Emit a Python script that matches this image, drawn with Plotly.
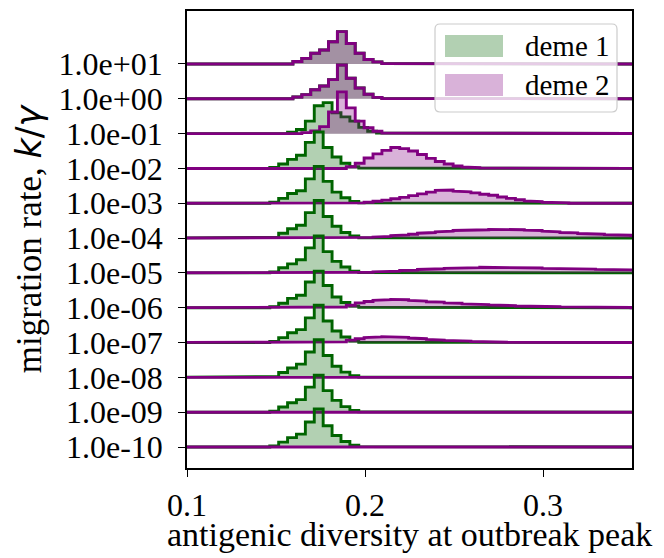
import plotly.graph_objects as go

# ---------------- data ----------------
rates = ["1.0e+01", "1.0e+00", "1.0e-01", "1.0e-02", "1.0e-03", "1.0e-04",
         "1.0e-05", "1.0e-06", "1.0e-07", "1.0e-08", "1.0e-09", "1.0e-10"]

bin_width = 0.005

# deme 1: left edge of first bin and bin heights, one row per rate (top to bottom)
deme1_start = [0.1595, 0.1595, 0.1565, 0.1465, 0.1465, 0.1465,
               0.1465, 0.1465, 0.1465, 0.1465, 0.1465, 0.1465]
deme1_heights = [
    [0.07, 0.16, 0.31, 0.40, 0.64, 0.93, 0.59, 0.31, 0.13, 0.06, 0.015],
    [0.05, 0.12, 0.26, 0.37, 0.55, 0.97, 0.59, 0.31, 0.13, 0.04, 0.01],
    [0.04, 0.12, 0.36, 0.80, 0.89, 0.60, 0.48, 0.36, 0.18, 0.07, 0.02],
    [0.03, 0.13, 0.26, 0.38, 0.75, 1.05, 0.60, 0.33, 0.15, 0.05, 0.01],
    [0.03, 0.14, 0.28, 0.36, 0.70, 1.06, 0.63, 0.32, 0.16, 0.05, 0.01],
    [0.02, 0.14, 0.27, 0.37, 0.73, 1.08, 0.62, 0.34, 0.16, 0.06, 0.01],
    [0.03, 0.15, 0.26, 0.38, 0.72, 1.06, 0.61, 0.33, 0.17, 0.05, 0.01],
    [0.03, 0.13, 0.27, 0.36, 0.74, 1.05, 0.64, 0.31, 0.15, 0.05, 0.01],
    [0.03, 0.14, 0.28, 0.37, 0.71, 1.07, 0.62, 0.33, 0.16, 0.04, 0.01],
    [0.02, 0.14, 0.27, 0.38, 0.73, 1.08, 0.63, 0.32, 0.15, 0.05, 0.01],
    [0.03, 0.15, 0.27, 0.36, 0.72, 1.06, 0.62, 0.34, 0.16, 0.05, 0.01],
    [0.03, 0.14, 0.27, 0.37, 0.72, 1.09, 0.61, 0.33, 0.16, 0.05, 0.01],
]

# deme 2
deme2_start = [0.1595, 0.1595, 0.1645, 0.1895, 0.1945, 0.1945,
               0.1945, 0.1845, 0.1845, 0.1845, 0.1845, 0.1845]
deme2_heights = [
    [0.07, 0.16, 0.31, 0.40, 0.64, 0.93, 0.59, 0.31, 0.13, 0.06, 0.015],
    [0.05, 0.12, 0.26, 0.37, 0.55, 0.97, 0.59, 0.31, 0.13, 0.04, 0.01],
    [0.03, 0.08, 0.20, 0.62, 1.20, 0.74, 0.36, 0.17, 0.07, 0.02],
    [0.05, 0.15, 0.30, 0.42, 0.52, 0.60, 0.57, 0.50, 0.40, 0.29, 0.20, 0.13,
     0.07, 0.04, 0.02, 0.01],
    [0.01, 0.03, 0.06, 0.09, 0.13, 0.17, 0.22, 0.27, 0.32, 0.37, 0.38, 0.35,
     0.33, 0.30, 0.26, 0.23, 0.18, 0.14, 0.10, 0.07, 0.05, 0.03, 0.02, 0.01],
    [0.01, 0.02, 0.03, 0.05, 0.07, 0.09, 0.11, 0.14, 0.16, 0.18, 0.20, 0.22,
     0.23, 0.23, 0.24, 0.25, 0.26, 0.25, 0.24, 0.23, 0.22, 0.20, 0.18, 0.16,
     0.15, 0.13, 0.12, 0.11, 0.10, 0.09, 0.08, 0.07, 0.06],
    [0.01, 0.02, 0.03, 0.04, 0.05, 0.07, 0.08, 0.10, 0.11, 0.12, 0.13, 0.14,
     0.15, 0.15, 0.16, 0.15, 0.15, 0.16, 0.15, 0.14, 0.14, 0.13, 0.13, 0.12,
     0.12, 0.11, 0.11, 0.10, 0.10, 0.09, 0.09, 0.08, 0.08],
    [0.02, 0.07, 0.14, 0.18, 0.21, 0.23, 0.24, 0.23, 0.21, 0.19, 0.17, 0.16,
     0.14, 0.13, 0.11, 0.10, 0.09, 0.08, 0.07, 0.06, 0.05, 0.045, 0.04, 0.035,
     0.03, 0.025, 0.02, 0.02, 0.015, 0.01, 0.01, 0.01, 0.005],
    [0.02, 0.07, 0.11, 0.14, 0.16, 0.17, 0.16, 0.15, 0.13, 0.11, 0.09, 0.07,
     0.06, 0.05, 0.04, 0.03, 0.02, 0.015, 0.01, 0.005],
    [],
    [],
    [],
]

series_names = ["deme 1", "deme 2"]
line_colors = ["#006400", "#800080"]
fill_colors = ["rgba(0,100,0,0.3)", "rgba(128,0,128,0.3)"]

x_lo, x_hi = 0.08, 0.37  # histogram support drawn past the visible range

FONT = "Liberation Serif, Times New Roman, serif"


def step_path(start, heights, base):
    xs, ys = [x_lo, start], [base, base]
    for i, h in enumerate(heights):
        x0 = start + i * bin_width
        xs += [x0, x0 + bin_width]
        ys += [base + h, base + h]
    end = start + len(heights) * bin_width
    xs += [end, x_hi]
    ys += [base, base]
    return xs, ys


fig = go.Figure()
n = len(rates)
for r in range(n):
    base = n - 1 - r
    for k, (starts, hs) in enumerate([(deme1_start, deme1_heights),
                                      (deme2_start, deme2_heights)]):
        xs, ys = step_path(starts[r], hs[r], base)
        fig.add_trace(go.Scatter(x=xs, y=ys, mode="lines", fill="toself",
                                 fillcolor=fill_colors[k], line=dict(width=0),
                                 hoverinfo="skip", showlegend=False))
        fig.add_trace(go.Scatter(x=xs, y=ys, mode="lines",
                                 line=dict(color=line_colors[k], width=2.9, shape="linear"),
                                 name=series_names[k], showlegend=False))

# the page places the figure 8px in from the top-left corner
OFF = 8
W, H = 664 - OFF, 558 - OFF
L, R, T, B = 187 - OFF, 32, 11 - OFF, 90
pw, ph = W - L - R, H - T - B


def px(x):
    return (x - OFF - L) / pw


def py(y):
    return (H - B - (y - OFF)) / ph


# manual legend (matplotlib-style box)
x0, x1, y0, y1, rr = 435, 617, 24, 112, 5
path = (f"M {px(x0+rr)},{py(y0)} L {px(x1-rr)},{py(y0)} "
        f"Q {px(x1)},{py(y0)} {px(x1)},{py(y0+rr)} L {px(x1)},{py(y1-rr)} "
        f"Q {px(x1)},{py(y1)} {px(x1-rr)},{py(y1)} L {px(x0+rr)},{py(y1)} "
        f"Q {px(x0)},{py(y1)} {px(x0)},{py(y1-rr)} L {px(x0)},{py(y0+rr)} "
        f"Q {px(x0)},{py(y0)} {px(x0+rr)},{py(y0)} Z")
shapes = [dict(type="path", xref="paper", yref="paper", path=path,
               fillcolor="rgba(255,255,255,0.8)", line=dict(color="#cccccc", width=1.2),
               layer="above")]
annotations = []
for k, (ytop, ybot) in enumerate([(35, 57), (74, 96)]):
    shapes.append(dict(type="rect", xref="paper", yref="paper",
                       x0=px(445), x1=px(503), y0=py(ybot), y1=py(ytop),
                       fillcolor=fill_colors[k], line=dict(width=0), layer="above"))
    annotations.append(dict(xref="paper", yref="paper", x=px(523), y=py((ytop + ybot) / 2),
                            text=series_names[k], showarrow=False, xanchor="left",
                            yanchor="middle", font=dict(family=FONT, size=29, color="black")))

# x-axis title
annotations.append(dict(xref="paper", yref="paper", x=0.5, y=py(534),
                        text="antigenic diversity at outbreak peak", showarrow=False,
                        xanchor="center", yanchor="middle",
                        font=dict(family=FONT, size=34, color="black")))

fig.update_layout(
    width=W, height=H,
    margin=dict(l=L, r=R, t=T, b=B, pad=0, autoexpand=False),
    plot_bgcolor="white", paper_bgcolor="white",
    font=dict(family=FONT, size=32, color="black"),
    shapes=shapes, annotations=annotations,
    showlegend=False,
)
fig.update_xaxes(range=[0.1, 0.35], tickvals=[0.1, 0.2, 0.3], ticktext=["0.1", "0.2", "0.3"],
                 ticks="outside", ticklen=7, tickwidth=1.3, tickcolor="black",
                 showline=True, linecolor="black", linewidth=1.5, mirror=True,
                 showgrid=False, zeroline=False, ticklabelstandoff=1,
                 tickfont=dict(family=FONT, size=32))
fig.update_yaxes(range=[-0.603, 12.522], tickvals=list(range(n - 1, -1, -1)), ticktext=rates,
                 ticks="outside", ticklen=7, tickwidth=1.3, tickcolor="black",
                 showline=True, linecolor="black", linewidth=1.5, mirror=True,
                 showgrid=False, zeroline=False, ticklabelstandoff=9,
                 tickfont=dict(family=FONT, size=32),
                 title=dict(text='migration rate, <span style="font-family:DejaVu Sans"><i>k</i>/<i>γ</i></span>',
                            standoff=6, font=dict(family=FONT, size=35)))

fig.write_html("out.html")
